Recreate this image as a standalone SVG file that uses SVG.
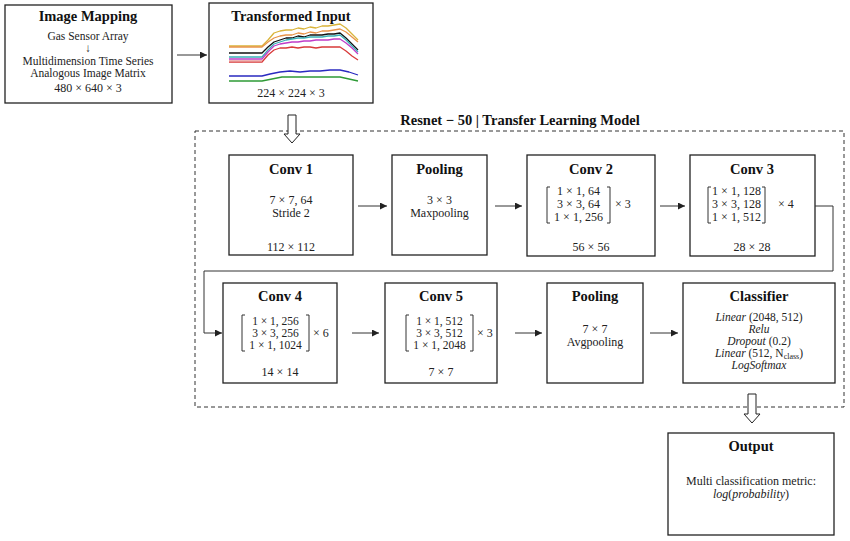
<svg xmlns="http://www.w3.org/2000/svg" width="850" height="541" viewBox="0 0 850 541">
<defs>
<style>
.box{fill:#fff;stroke:#222;stroke-width:1.3}
.t{font-family:"Liberation Serif",serif;font-weight:bold;font-size:14.5px;fill:#111;text-anchor:middle}
.b{font-family:"Liberation Serif",serif;font-size:12px;fill:#222;text-anchor:middle}
.s{font-size:11.5px}
.l{font-family:"Liberation Serif",serif;font-size:12px;fill:#222}
.c{fill:none;stroke:#333;stroke-width:1}
.br{fill:none;stroke:#333;stroke-width:1}
.ch{fill:none;stroke-width:1.3;stroke-linejoin:round}
.hol{fill:#fff;stroke:#222;stroke-width:1}
.it{font-style:italic}
</style>
<marker id="ah" viewBox="0 0 8 8" refX="8" refY="4" markerWidth="7" markerHeight="7" markerUnits="userSpaceOnUse" orient="auto">
<path d="M0,0 L8,4 L0,8 z" fill="#222"/>
</marker>
</defs>
<rect width="850" height="541" fill="#fff"/>

<g id="dashed-frame">
<rect x="195" y="131" width="649" height="276" fill="none" stroke="#333" stroke-width="1" stroke-dasharray="4,3"/>
<text class="t" x="520" y="125">Resnet − 50 | Transfer Learning Model</text>
</g>

<g id="image-mapping">
<rect class="box" x="5" y="5" width="167" height="98"/>
<text class="t" x="88" y="21">Image Mapping</text>
<text class="b s" x="88" y="40">Gas Sensor Array</text>
<text class="b s" x="88" y="52">↓</text>
<text class="b s" x="88" y="65">Multidimension Time Series</text>
<text class="b s" x="88" y="77">Analogous Image Matrix</text>
<text class="b" x="88" y="92">480 × 640 × 3</text>
</g>

<g id="transformed-input">
<rect class="box" x="209" y="3" width="164" height="100"/>
<text class="t" x="291" y="21">Transformed Input</text>
<polyline class="ch" stroke="#d9b43a" stroke-width="2" points="229,46 262,46 268,40 274,33 280,31 286,30 292,30 298,28 304,29 310,27 316,28 322,26 328,26 334,25 340,24 346,28 352,34 358,40"/>
<polyline class="ch" stroke="#e8944a" points="229,47 262,47 268,42 274,38 280,36 286,35 292,35 298,33 304,34 310,32 316,33 322,31 328,31 334,30 340,29 346,32 352,37 358,42"/>
<polyline class="ch" stroke="#111" points="229,53 262,53 268,47 274,42 280,40 286,38 292,38 298,36 304,37 310,35 316,35 322,35 328,34 334,34 340,33 346,38 352,44 358,50"/>
<polyline class="ch" stroke="#3bb0b8" points="229,57 262,57 268,50 274,44 280,42 286,40 292,39 298,38 304,38 310,37 316,37 322,37 328,36 334,36 340,35 346,40 352,46 358,52"/>
<polyline class="ch" stroke="#c03cc8" points="229,59 262,59 268,52 274,46 280,44 286,43 292,42 298,42 304,41 310,41 316,40 322,40 328,40 334,39 340,39 346,43 352,48 358,54"/>
<polyline class="ch" stroke="#d83a3a" points="229,62 262,62 268,55 274,50 280,48 286,48 292,47 298,48 304,47 310,47 316,48 322,47 328,47 334,47 340,47 346,51 352,56 358,60"/>
<polyline class="ch" stroke="#e89a9a" points="229,61 262,61"/>
<polyline class="ch" stroke="#2a2ac0" points="229,76 262,76 270,74 280,72 290,71 300,72 310,71 320,71 330,70 340,70 349,72 358,75"/>
<polyline class="ch" stroke="#2e9a36" points="229,81 262,81 272,79 282,77 300,77 320,77 340,77 349,79 358,81"/>
<text class="b" x="291" y="97">224 × 224 × 3</text>
</g>

<g id="conv1">
<rect class="box" x="229" y="155" width="124" height="100"/>
<text class="t" x="291" y="174">Conv 1</text>
<text class="b" x="291" y="204">7 × 7, 64</text>
<text class="b" x="291" y="217">Stride 2</text>
<text class="b" x="291" y="251">112 × 112</text>
</g>

<g id="pooling1">
<rect class="box" x="392" y="155" width="95" height="100"/>
<text class="t" x="439.5" y="174">Pooling</text>
<text class="b" x="439.5" y="204">3 × 3</text>
<text class="b" x="439.5" y="217">Maxpooling</text>
</g>

<g id="conv2">
<rect class="box" x="527" y="155" width="128" height="101"/>
<text class="t" x="591" y="174">Conv 2</text>
<path class="br" d="M550,187 H547 V223 H550 M607,187 H610 V223 H607"/>
<text class="b" x="578.5" y="195">1 × 1, 64</text>
<text class="b" x="578.5" y="208">3 × 3, 64</text>
<text class="b" x="578.5" y="221">1 × 1, 256</text>
<text class="l" x="615" y="208">× 3</text>
<text class="b" x="591" y="251">56 × 56</text>
</g>

<g id="conv3">
<rect class="box" x="690" y="155" width="125" height="101"/>
<text class="t" x="752" y="174">Conv 3</text>
<path class="br" d="M711,187 H708 V223 H711 M762,187 H765 V223 H762"/>
<text class="b" x="736.5" y="195">1 × 1, 128</text>
<text class="b" x="736.5" y="208">3 × 3, 128</text>
<text class="b" x="736.5" y="221">1 × 1, 512</text>
<text class="l" x="778" y="208">× 4</text>
<text class="b" x="752" y="251">28 × 28</text>
</g>

<g id="conv4">
<rect class="box" x="223" y="283" width="114" height="100"/>
<text class="t" x="280" y="301">Conv 4</text>
<path class="br" d="M245,315 H242 V351 H245 M306,315 H309 V351 H306"/>
<text class="b s" x="275.5" y="325">1 × 1, 256</text>
<text class="b s" x="275.5" y="337">3 × 3, 256</text>
<text class="b s" x="275.5" y="349">1 × 1, 1024</text>
<text class="l" x="313" y="337">× 6</text>
<text class="b" x="280" y="376">14 × 14</text>
</g>

<g id="conv5">
<rect class="box" x="385" y="283" width="112" height="100"/>
<text class="t" x="441" y="301">Conv 5</text>
<path class="br" d="M409,315 H406 V351 H409 M470,315 H473 V351 H470"/>
<text class="b s" x="439.5" y="325">1 × 1, 512</text>
<text class="b s" x="439.5" y="337">3 × 3, 512</text>
<text class="b s" x="439.5" y="349">1 × 1, 2048</text>
<text class="l" x="477" y="337">× 3</text>
<text class="b" x="441" y="376">7 × 7</text>
</g>

<g id="pooling2">
<rect class="box" x="547" y="283" width="96" height="100"/>
<text class="t" x="595" y="301">Pooling</text>
<text class="b" x="595" y="333">7 × 7</text>
<text class="b" x="595" y="346">Avgpooling</text>
</g>

<g id="classifier">
<rect class="box" x="683" y="283" width="152" height="100"/>
<text class="t" x="759" y="301">Classifier</text>
<text class="b s" x="759" y="321"><tspan class="it">Linear</tspan> (2048, 512)</text>
<text class="b s" x="759" y="333"><tspan class="it">Relu</tspan></text>
<text class="b s" x="759" y="345"><tspan class="it">Dropout</tspan> (0.2)</text>
<text class="b s" x="759" y="357"><tspan class="it">Linear</tspan> (512, N<tspan font-size="8" dy="2">class</tspan><tspan dy="-2">)</tspan></text>
<text class="b s" x="759" y="369"><tspan class="it">LogSoftmax</tspan></text>
</g>

<g id="output">
<rect class="box" x="668" y="433" width="166" height="102"/>
<text class="t" x="751" y="451">Output</text>
<text class="b" x="751" y="485">Multi classification metric:</text>
<text class="b" x="751" y="498"><tspan class="it">log</tspan>(<tspan class="it">probability</tspan>)</text>
</g>

<g id="connectors">
<line class="c" x1="177" y1="55" x2="207" y2="55" marker-end="url(#ah)"/>
<line class="c" x1="358" y1="206" x2="387" y2="206" marker-end="url(#ah)"/>
<line class="c" x1="495" y1="206" x2="522" y2="206" marker-end="url(#ah)"/>
<line class="c" x1="660" y1="206" x2="685" y2="206" marker-end="url(#ah)"/>
<polyline class="c" points="815,206 833,206 833,271 204,271 204,333 222,333" marker-end="url(#ah)"/>
<line class="c" x1="352" y1="333" x2="379" y2="333" marker-end="url(#ah)"/>
<line class="c" x1="515" y1="333" x2="542" y2="333" marker-end="url(#ah)"/>
<line class="c" x1="650" y1="333" x2="678" y2="333" marker-end="url(#ah)"/>
<polygon class="hol" points="288,115 296,115 296,134 300,134 292,143 284,134 288,134"/>
<polygon class="hol" points="748,394 756,394 756,414 760,414 752,423 744,414 748,414"/>
</g>
</svg>
